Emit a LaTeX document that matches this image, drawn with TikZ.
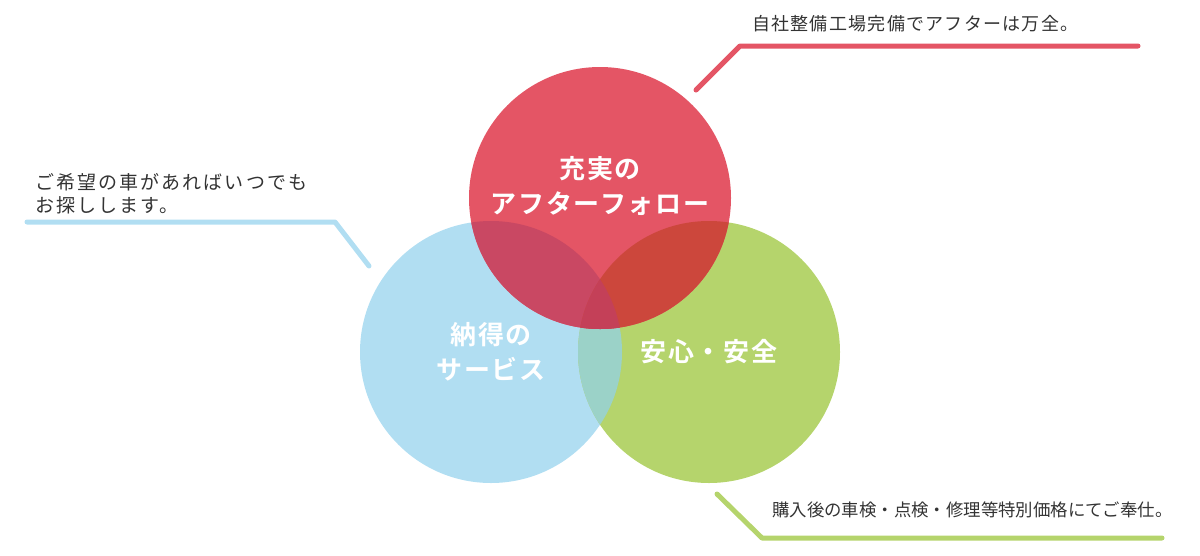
\documentclass[tikz,border=0pt]{standalone}
\usepackage{fontspec}
\setmainfont{Noto Sans CJK JP}[BoldFont={Noto Sans CJK JP Bold}]
\usepackage{tikz}
\usetikzlibrary{positioning, calc}
\definecolor{followcolor}{HTML}{E45565}
\definecolor{servicecolor}{HTML}{B1DEF2}
\definecolor{safecolor}{HTML}{B5D46C}
\definecolor{followservice}{HTML}{C94863}
\definecolor{followsafe}{HTML}{CC473C}
\definecolor{servicesafe}{HTML}{9BD2C8}
\definecolor{allthree}{HTML}{C44058}
\definecolor{notecolor}{HTML}{333333}

\begin{document}
\begin{tikzpicture}[
    x=1pt, y=-1pt,
    ring/.style={circle, minimum size=262pt, inner sep=0pt},
    title/.style={text=white, font=\fontsize{26}{35}\selectfont\bfseries\addfontfeatures{LetterSpace=6.5}, align=center},
    note/.style={text=notecolor, anchor=west, align=left, inner sep=0pt},
    callout/.style={line width=5pt, line cap=round, line join=round}
]
    \useasboundingbox (0,0) rectangle (1200,555);

    % Circles
    \node[ring, fill=servicecolor] (service) at (491,352) {};
    \node[ring, fill=safecolor] (safe) at (709,352) {};
    \node[ring, fill=followcolor] (follow) at (600,198) {};

    % Overlaps
    \begin{scope}
        \clip (service.center) circle[radius=131];
        \fill[servicesafe] (safe.center) circle[radius=131];
        \fill[followservice] (follow.center) circle[radius=131];
    \end{scope}
    \begin{scope}
        \clip (safe.center) circle[radius=131];
        \fill[followsafe] (follow.center) circle[radius=131];
        \clip (service.center) circle[radius=131];
        \fill[allthree] (follow.center) circle[radius=131];
    \end{scope}

    % Circle titles
    \node[title, yshift=12pt] (follow text) at (follow.center) {充実の\\アフターフォロー};
    \node[title] (service text) at (service.center) {納得の\\サービス};
    \node[title] (safe text) at (safe.center) {安心・安全};

    % Callouts
    \coordinate (follow start) at (696,90);
    \coordinate (follow bend) at (740,46);
    \coordinate (follow end) at (1138,46);
    \draw[callout, followcolor] (follow start) -- (follow bend) -- (follow end);
    \node[note, font=\fontsize{18}{23}\selectfont\addfontfeatures{LetterSpace=7}] (follow note) at (752,24) {自社整備工場完備でアフターは万全。};

    \coordinate (service start) at (369,266);
    \coordinate (service bend) at (335,222);
    \coordinate (service end) at (27,222);
    \draw[callout, servicecolor] (service start) -- (service bend) -- (service end);
    \node[note, font=\fontsize{19}{23}\selectfont\addfontfeatures{LetterSpace=11}] (service note) at (35,193.5) {ご希望の車があればいつでも\\お探しします。};

    \coordinate (safe start) at (717,494);
    \coordinate (safe bend) at (762,538);
    \coordinate (safe end) at (1162,538);
    \draw[callout, safecolor] (safe start) -- (safe bend) -- (safe end);
    \node[note, font=\fontsize{17.4}{23}\selectfont] (safe note) at (772,510) {購入後の車検・点検・修理等特別価格にてご奉仕。};

\end{tikzpicture}
\end{document}
